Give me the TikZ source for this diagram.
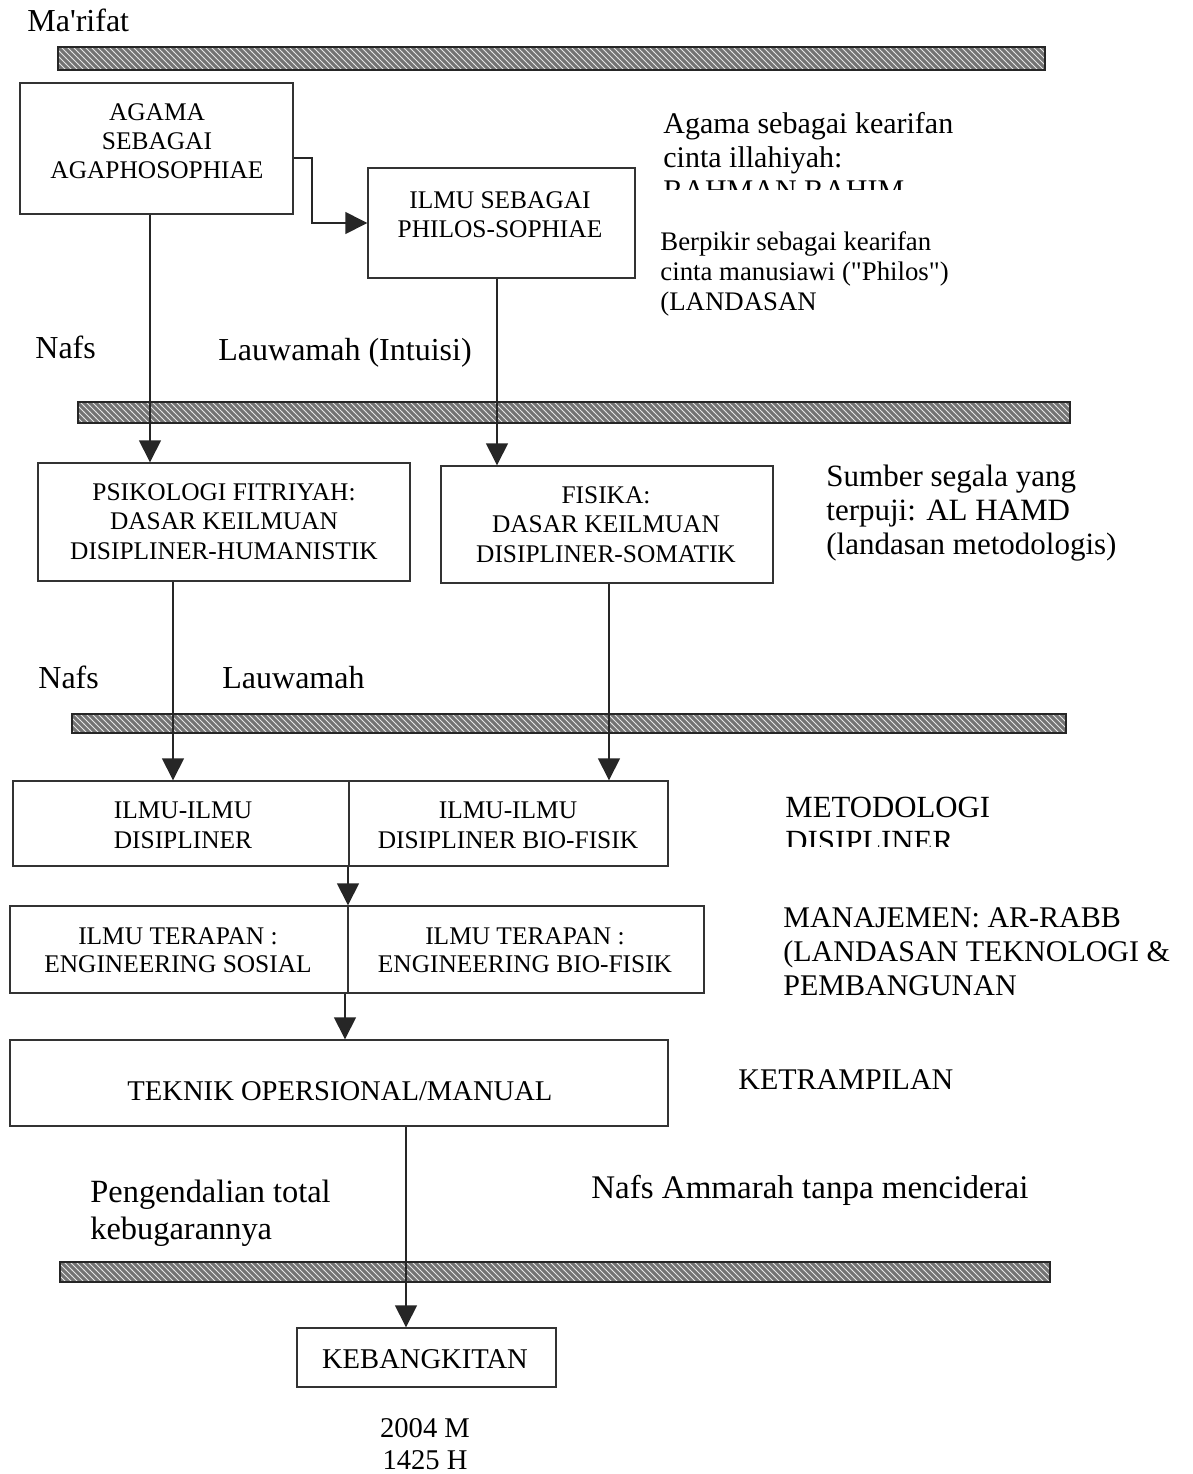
\documentclass[tikz,border=0pt]{standalone}
\usepackage{fontspec}
\setmainfont{Liberation Serif}[Ligatures=TeXOff]
\usetikzlibrary{arrows.meta,patterns}
\newcommand\fsz[2]{\fontsize{#1}{#2}\selectfont}
\begin{document}
\begin{tikzpicture}[x=0.5pt,y=-0.5pt,
  box/.style={draw=black!80, line width=0.7pt, inner sep=0pt, rectangle},
  btext/.style={anchor=base, align=center, inner sep=0pt, font=\fsz{12.7}{14.5}},
  lbl/.style={anchor=base west, align=left, inner sep=0pt},
  arr/.style={-{Triangle[width=11pt,length=11pt]}, line width=0.7pt, draw=black!85},
  barfill/.style={fill=black!55},
  barhatch/.style={pattern=north west lines, pattern color=white!80!gray},
  barline/.style={draw=black!85, line width=0.9pt}]
\useasboundingbox[fill=white] (0,0) rectangle (1193,1474);

% hatched bars
\foreach \xa/\ya/\xb/\yb in {58/47/1045/70, 78/402/1070/423, 72/714/1066/733, 60/1262/1050/1282}{
  \fill[barfill] (\xa,\ya) rectangle (\xb,\yb);
  \fill[barhatch] (\xa,\ya) rectangle (\xb,\yb);
  \draw[barline] (\xa,\ya) rectangle (\xb,\yb);
}

% free labels (multi-line nodes: anchor at baseline of last line)
\node[lbl, font=\fsz{16}{18}] (marifat) at (27,31) {Ma'rifat};
\node[lbl, font=\fsz{15}{17}] (ket1) at (663,167) {Agama sebagai kearifan\\cinta illahiyah:};
\begin{scope}
  \clip (600,150) rectangle (1100,189);
  \node[lbl, font=\fsz{15}{17}] (ket1b) at (663,200) {RAHMAN RAHIM};
\end{scope}
\node[lbl, font=\fsz{13.4}{15}] (ket2) at (660,310) {Berpikir sebagai kearifan\\cinta manusiawi ("Philos")\\(LANDASAN};
\node[lbl, font=\fsz{16}{18}] (nafs1) at (35,358) {Nafs};
\node[lbl, font=\fsz{16}{18}] (lauw1) at (218,360) {Lauwamah (Intuisi)};
\node[lbl, font=\fsz{15.5}{17}] (ket3) at (826,554) {Sumber segala yang\\terpuji: AL HAMD\\(landasan metodologis)};
\node[lbl, font=\fsz{16}{18}] (nafs2) at (38,688) {Nafs};
\node[lbl, font=\fsz{16}{18}] (lauw2) at (222,688) {Lauwamah};
\node[lbl, font=\fsz{15.4}{16.5}] (ket4) at (785,817) {METODOLOGI};
\begin{scope}
  \clip (700,825) rectangle (1100,846);
  \node[lbl, font=\fsz{15.4}{16.5}] (ket4b) at (785,851) {DISIPLINER};
\end{scope}
\node[lbl, font=\fsz{15}{17}] (ket5) at (783,995) {MANAJEMEN: AR-RABB\\(LANDASAN TEKNOLOGI \&\\PEMBANGUNAN};
\node[lbl, font=\fsz{15}{17}] (ket6) at (738,1089) {KETRAMPILAN};
\node[lbl, font=\fsz{16.2}{18.2}] (peng) at (90,1239) {Pengendalian total\\kebugarannya};
\node[lbl, font=\fsz{16.5}{18}] (ammarah) at (591,1198) {Nafs Ammarah tanpa menciderai};
\node[anchor=base, align=center, inner sep=0pt, font=\fsz{14.3}{16}] (tahun) at (425,1469) {2004 M\\1425 H};

% boxes
\node[box, minimum width=136.5pt, minimum height=65.5pt] (agama) at (156.5,148.5) {};
\node[btext] (agamat) at (157,178) {AGAMA\\SEBAGAI\\AGAPHOSOPHIAE};
\node[box, minimum width=133.5pt, minimum height=55pt] (ilmu) at (501.5,223) {};
\node[btext] (ilmut) at (500,237) {ILMU SEBAGAI\\PHILOS-SOPHIAE};
\node[box, minimum width=186pt, minimum height=59pt] (psik) at (224,522) {};
\node[btext, font=\fsz{12.7}{14.7}] (psikt) at (224,559) {PSIKOLOGI FITRIYAH:\\DASAR KEILMUAN\\DISIPLINER-HUMANISTIK};
\node[box, minimum width=166pt, minimum height=58.5pt] (fis) at (607,524.5) {};
\node[btext, font=\fsz{12.7}{14.7}] (fist) at (606,562) {FISIKA:\\DASAR KEILMUAN\\DISIPLINER-SOMATIK};
\node[box, minimum width=168pt, minimum height=42.5pt] (dl) at (181,823.5) {};
\node[btext, font=\fsz{12.7}{15}] (dlt) at (183,848) {ILMU-ILMU\\DISIPLINER};
\node[box, minimum width=159.5pt, minimum height=42.5pt] (dr) at (508.5,823.5) {};
\node[btext, font=\fsz{12.7}{15}] (drt) at (508,848) {ILMU-ILMU\\DISIPLINER BIO-FISIK};
\node[box, minimum width=169pt, minimum height=43.5pt] (tl) at (179,949.5) {};
\node[btext, font=\fsz{12.7}{14}] (tlt) at (178,972) {ILMU TERAPAN :\\ENGINEERING SOSIAL};
\node[box, minimum width=178pt, minimum height=43.5pt] (tr) at (526,949.5) {};
\node[btext, font=\fsz{12.7}{14}] (trt) at (525,972) {ILMU TERAPAN :\\ENGINEERING BIO-FISIK};
\node[box, minimum width=329pt, minimum height=43pt] (tek) at (339,1083) {};
\node[btext, font=\fsz{14.3}{16}] (tekt) at (340,1100) {TEKNIK OPERSIONAL/MANUAL};
\node[box, minimum width=129.5pt, minimum height=29.5pt] (keb) at (426.5,1357.5) {};
\node[btext, font=\fsz{14.3}{16}] (kebt) at (425,1368) {KEBANGKITAN};

% connector x positions
\coordinate (xa) at (150,0);
\coordinate (xb) at (497,0);
\coordinate (xc) at (173,0);
\coordinate (xd) at (609,0);
\coordinate (xe) at (348,0);
\coordinate (xf) at (345,0);
\coordinate (xg) at (406,0);
\coordinate (ya) at (0,158);
\coordinate (bend) at (312,0);

% connectors
\draw[arr] (agama.east |- ya) -| (bend |- ilmu.west) -- (ilmu.west);
\draw[arr] (agama.south -| xa) -- (psik.north -| xa);
\draw[arr] (ilmu.south -| xb) -- (fis.north -| xb);
\draw[arr] (psik.south -| xc) -- (dl.north -| xc);
\draw[arr] (fis.south -| xd) -- (dr.north -| xd);
\draw[arr] (dl.south -| xe) -- (tl.north -| xe);
\draw[arr] (tl.south -| xf) -- (tek.north -| xf);
\draw[arr] (tek.south -| xg) -- (keb.north -| xg);
\end{tikzpicture}
\end{document}
